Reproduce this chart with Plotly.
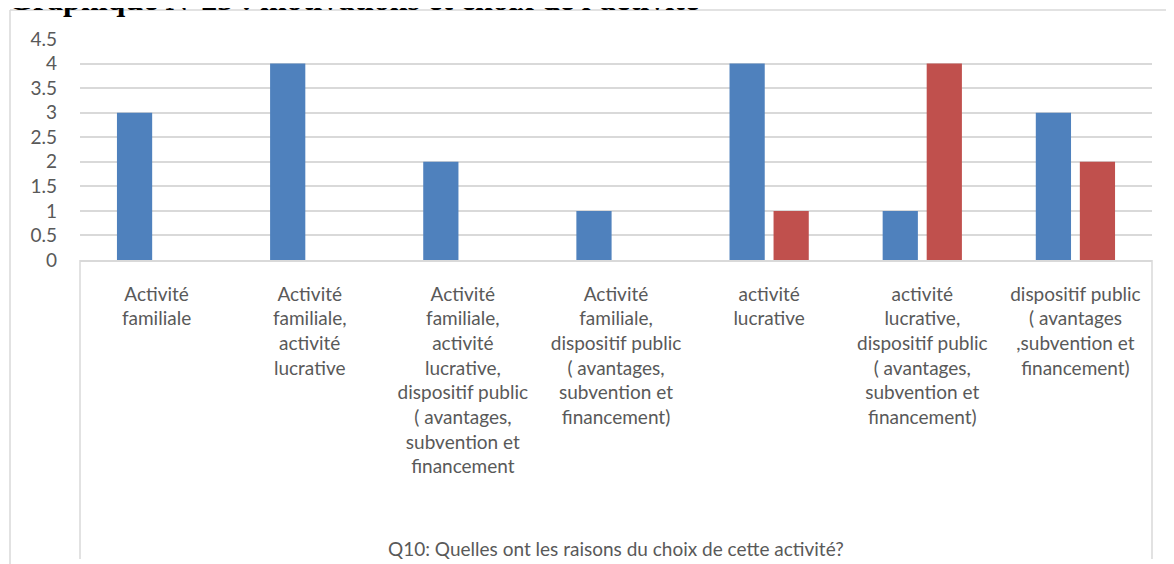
import plotly.graph_objects as go

categories = [
    "Activité familiale",
    "Activité familiale, activité lucrative",
    "Activité familiale, activité lucrative, dispositif public ( avantages, subvention et financement",
    "Activité familiale, dispositif public ( avantages, subvention et financement)",
    "activité lucrative",
    "activité lucrative, dispositif public ( avantages, subvention et financement)",
    "dispositif public ( avantages ,subvention et financement)",
]
tick_labels = [
    "Activité<br>familiale",
    "Activité<br>familiale,<br>activité<br>lucrative",
    "Activité<br>familiale,<br>activité<br>lucrative,<br>dispositif public<br>( avantages,<br>subvention et<br>financement",
    "Activité<br>familiale,<br>dispositif public<br>( avantages,<br>subvention et<br>financement)",
    "activité<br>lucrative",
    "activité<br>lucrative,<br>dispositif public<br>( avantages,<br>subvention et<br>financement)",
    "dispositif public<br>( avantages<br>,subvention et<br>financement)",
]
series1 = [3, 4, 2, 1, 4, 1, 3]
series2 = [0, 0, 0, 0, 1, 4, 2]
y_ticks = [0, 0.5, 1, 1.5, 2, 2.5, 3, 3.5, 4, 4.5]

title_text = "Graphique N°25 : motivations et choix de l'activité"
axis_title = "Q10: Quelles ont les raisons du choix de cette activité?"

FONT = "Lato"
GREY = "#595959"
LINE = "#D9D9D9"
FS = 19

fig = go.Figure()
fig.add_trace(go.Bar(x=categories, y=series1, marker=dict(color="#4F81BD", line=dict(width=0)), name="1"))
fig.add_trace(go.Bar(x=categories, y=series2, marker=dict(color="#C0504D", line=dict(width=0)), name="2"))

# page body has an 8px margin: positions below are in figure coordinates
OFF = 8
W, H = 1174, 564
L, R, T, B = 80 - OFF, 1174 - (1152 - OFF), 39 - OFF, 564 - (260 - OFF)
pw, ph = W - L - R, H - T - B

def px(x):
    return (x - OFF - L) / pw

def py(y):
    return (H - B - (y - OFF)) / ph

fig.update_layout(
    width=W, height=H,
    margin=dict(l=L, r=R, t=T, b=B),
    paper_bgcolor="white", plot_bgcolor="white",
    barmode="group", bargap=0.425, bargroupgap=0.2,
    showlegend=False,
    font=dict(family=FONT, size=FS, color=GREY),
    xaxis=dict(
        tickmode="array", tickvals=categories, ticktext=tick_labels,
        showline=True, linecolor=LINE, linewidth=1.5,
        showgrid=False, ticks="", ticklabelstandoff=16,
        tickfont=dict(family=FONT, size=FS, color=GREY),
    ),
    yaxis=dict(
        range=[0, 4.5], tickmode="array", tickvals=y_ticks,
        ticktext=[f"{v:g}" for v in y_ticks],
        showgrid=True, gridcolor=LINE, gridwidth=1.5,
        zeroline=False, showline=False, ticks="",
        ticklabelstandoff=22,
        tickfont=dict(family=FONT, size=FS, color=GREY),
    ),
    shapes=[
        # outer chart frame
        dict(type="line", xref="paper", yref="paper", x0=px(10), x1=px(1200), y0=py(10), y1=py(10),
             line=dict(color=LINE, width=1.5)),
        dict(type="line", xref="paper", yref="paper", x0=px(10), x1=px(10), y0=py(10), y1=py(600),
             line=dict(color=LINE, width=1.5)),
        # category label box sides
        dict(type="line", xref="paper", yref="paper", x0=0, x1=0, y0=0, y1=py(559),
             line=dict(color=LINE, width=1.5)),
        dict(type="line", xref="paper", yref="paper", x0=1, x1=1, y0=0, y1=py(559),
             line=dict(color=LINE, width=1.5)),
    ],
    annotations=[
        dict(text=axis_title, xref="paper", yref="paper", x=0.5, y=py(548),
             xanchor="center", yanchor="middle", showarrow=False,
             font=dict(family=FONT, size=FS, color=GREY)),
        dict(text="<b>" + title_text + "</b>", xref="paper", yref="paper", x=px(6), y=py(-1),
             xanchor="left", yanchor="middle", showarrow=False,
             font=dict(family="Liberation Serif", size=32, color="black")),
    ],
)

fig.write_html("out.html")
